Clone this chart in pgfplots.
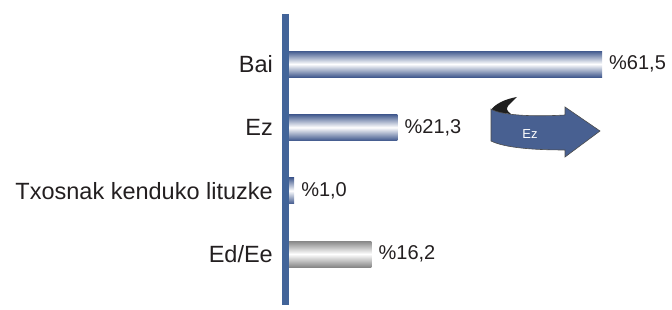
\documentclass[border=0pt]{standalone}
\usepackage{pgfplots}
\pgfplotsset{compat=1.18}
\usepackage{fontspec}
\setmainfont{Liberation Sans}
\definecolor{axblue}{RGB}{66,100,153}
\definecolor{barblue}{RGB}{66,90,142}
\definecolor{bargray}{RGB}{135,135,135}
\definecolor{arrblue}{RGB}{72,96,145}
\definecolor{txt}{RGB}{35,31,32}
\begin{document}
\begin{tikzpicture}
\begin{axis}[
  name=ax,
  scale only axis,
  width=386pt, height=291pt,
  xmin=-0.589, xmax=75.25,
  ymin=-0.79, ymax=3.805,
  y dir=reverse,
  axis x line=none,
  axis y line*=left,
  axis line style={line width=7pt, color=axblue},
  axis on top,
  ytick={0,1,2,3},
  yticklabels={Bai,Ez,Txosnak kenduko lituzke,Ed/Ee},
  major tick length=0pt,
  yticklabel style={inner sep=0pt, xshift=-13pt, font=\fontsize{23.5}{24}\selectfont, text=txt},
  xbar, bar width=26pt, bar shift=0pt,
  point meta=x,
  /pgf/number format/assume math mode=true,
  nodes near coords={\%\pgfmathprintnumber[fixed,fixed zerofill,precision=1,use comma,assume math mode=true]{\pgfplotspointmeta}},
  every node near coord/.append style={anchor=west, inner sep=0pt, xshift=7pt, font=\fontsize{20}{20}\selectfont, text=txt},
  clip=false,
]
\addplot[draw=none, top color=barblue, bottom color=barblue, middle color=white] coordinates {(61.5,0)};
\addplot[draw=none, top color=barblue, bottom color=barblue, middle color=white] coordinates {(21.3,1)};
\addplot[draw=none, top color=barblue, bottom color=barblue, middle color=white] coordinates {(1.0,2)};
\addplot[draw=none, top color=bargray, bottom color=bargray, middle color=white] coordinates {(16.2,3)};
\end{axis}
\begin{scope}[shift={(ax.north west)}, xshift=-286pt, yshift=14pt, x=1pt, y=-1pt]
  \path (0,0) rectangle (672,310);
  % curl
  \fill[black!88] (491,110) .. controls (495,104) and (505,99) .. (517,97) -- (508,106) .. controls (506,109) and (507,111) .. (511,114) -- (500,113) -- cycle;
  % body
  \filldraw[fill=arrblue, draw=black!70, line width=0.6pt] (491,109) .. controls (500,115) and (530,117) .. (565,115) -- (565,107) -- (600,131) -- (565,157) -- (565,150) .. controls (535,150) and (505,148) .. (491,141) -- cycle;
  \node[text=white, font=\fontsize{13}{13}\selectfont] at (530,134) {Ez};
\end{scope}
\end{tikzpicture}
\end{document}
